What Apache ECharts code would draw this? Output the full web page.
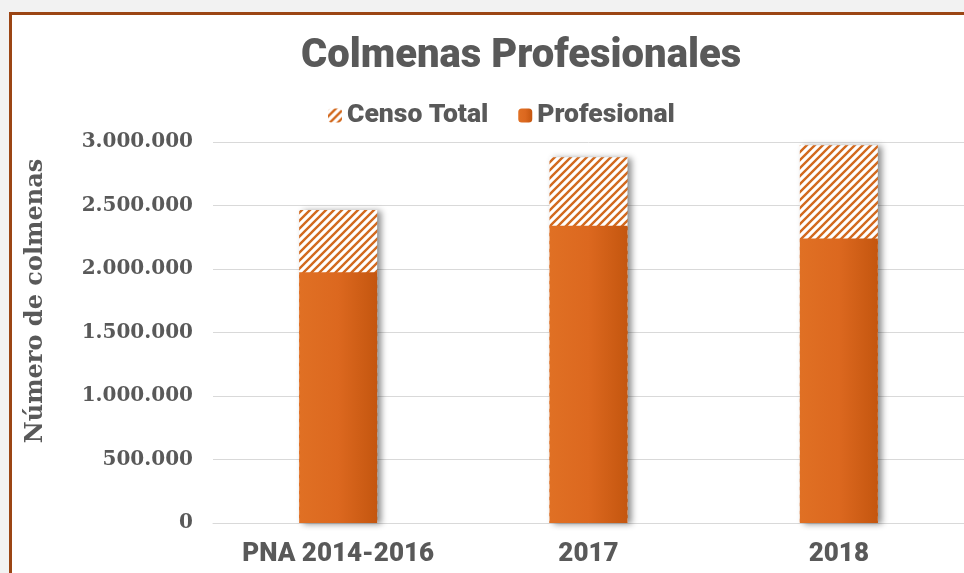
<!DOCTYPE html>
<html><head><meta charset="utf-8">
<script src="https://cdn.jsdelivr.net/npm/echarts@6/dist/echarts.min.js"></script>
<style>
html,body{margin:0;padding:0;overflow:hidden;background:#f2f2f2;width:964px;height:573px}
#frame{position:absolute;left:9px;top:12px;width:1000px;height:640px;border:3px solid #9b4514;background:#fff}
#c{position:absolute;left:0;top:0;width:964px;height:573px}
</style></head>
<body>
<div id="frame"></div>
<div id="c"></div>
<script>
const categories = ['PNA 2014-2016', '2017', '2018'];
const censoTotal = [2465000, 2880000, 2975000];
const profesional = [1975000, 2340000, 2240000];
const seriesNames = ['Censo Total', 'Profesional'];
const yTicks = {min: 0, max: 3000000, interval: 500000};

function hatch() {
  const s = 8, cv = document.createElement('canvas');
  cv.width = s; cv.height = s;
  const g = cv.getContext('2d');
  g.fillStyle = '#ffffff'; g.fillRect(0, 0, s, s);
  g.strokeStyle = '#d2691e'; g.lineWidth = 2.4;
  g.beginPath();
  g.moveTo(-s, s); g.lineTo(s, -s);
  g.moveTo(0, s); g.lineTo(s, 0);
  g.moveTo(0, 2 * s); g.lineTo(2 * s, 0);
  g.stroke();
  return cv;
}
const fmt = v => String(v).replace(/\B(?=(\d{3})+(?!\d))/g, '.');
const SANS = 'Roboto';

const chart = echarts.init(document.getElementById('c'), null, {renderer: 'canvas'});
const orange = new echarts.graphic.LinearGradient(0, 0, 1, 0, [
  {offset: 0, color: '#e07024'}, {offset: 0.5, color: '#dc681f'}, {offset: 1, color: '#c4560f'}
]);
chart.setOption({
  backgroundColor: 'transparent',
  title: {
    text: 'Colmenas Profesionales', left: 296, top: 32,
    textStyle: {fontFamily: SANS, fontWeight: 900, fontSize: 40, color: '#595959'}
  },
  legend: {
    left: 323, top: 97, itemWidth: 14, itemHeight: 14, itemGap: 30,
    data: seriesNames,
    textStyle: {fontFamily: SANS, fontWeight: 900, fontSize: 26.5, color: '#595959'}
  },
  grid: {left: 213, top: 142, width: 755, height: 381},
  xAxis: {
    type: 'category', data: categories,
    axisLine: {lineStyle: {color: '#d9d9d9', width: 1}}, axisTick: {show: false},
    axisLabel: {margin: 18, fontFamily: SANS, fontWeight: 900, fontSize: 26, color: '#595959'}
  },
  yAxis: {
    type: 'value', min: yTicks.min, max: yTicks.max, interval: yTicks.interval,
    axisLine: {show: false}, axisTick: {show: false},
    splitLine: {lineStyle: {color: '#d9d9d9', width: 1}},
    axisLabel: {margin: 20, formatter: fmt, fontFamily: 'DejaVu Serif', fontWeight: 'bold', fontSize: 20, color: '#595959'}
  },
  graphic: [{
    type: 'text', x: 36, y: 301, rotation: Math.PI / 2,
    style: {text: 'Número de colmenas', fill: '#595959', font: 'bold 24px "DejaVu Serif"', align: 'center', verticalAlign: 'middle'}
  }],
  series: [
    {name: seriesNames[0], type: 'bar', data: censoTotal, barWidth: 78, barGap: '-100%',
     itemStyle: {color: {image: hatch(), repeat: 'repeat'}, shadowColor: 'rgba(0,0,0,0.45)', shadowBlur: 6, shadowOffsetX: 4, shadowOffsetY: 1}},
    {name: seriesNames[1], type: 'bar', data: profesional, barWidth: 78, barGap: '-100%',
     itemStyle: {color: orange, shadowColor: 'rgba(0,0,0,0.55)', shadowBlur: 6, shadowOffsetX: 4, shadowOffsetY: 1}}
  ]
});
</script>
</body></html>
